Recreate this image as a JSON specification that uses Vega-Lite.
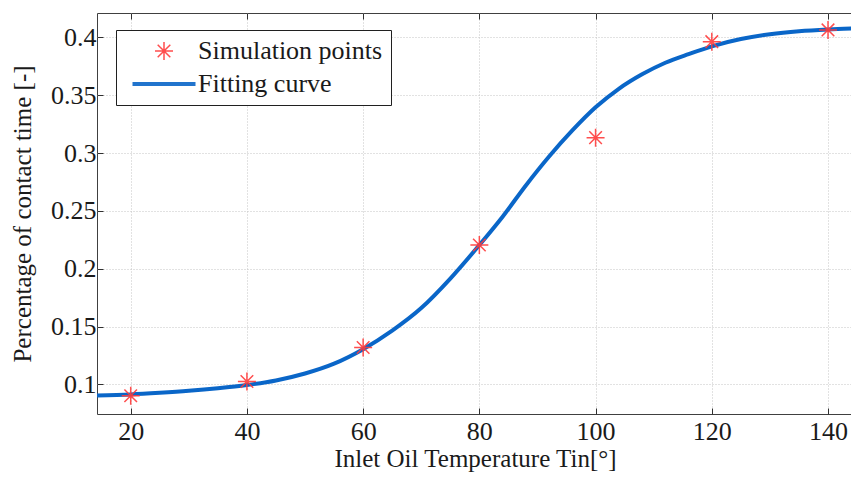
{
  "$schema": "https://vega.github.io/schema/vega-lite/v6.json",
  "width": 756,
  "height": 401,
  "autosize": "none",
  "padding": {"left": 97, "top": 13, "right": 0, "bottom": 63},
  "background": "white",
  "config": {
    "view": {"stroke": "#404040", "strokeWidth": 1},
    "font": "Liberation Serif",
    "axis": {
      "labelFont": "Liberation Serif",
      "titleFont": "Liberation Serif",
      "labelFontSize": 26,
      "titleFontSize": 25,
      "labelColor": "#1a1a1a",
      "titleColor": "#1a1a1a",
      "titleFontWeight": "normal",
      "domain": false,
      "tickColor": "#303030",
      "tickSize": -6,
      "grid": true,
      "gridColor": "#c4c4c4",
      "gridDash": [1, 2],
      "gridWidth": 1
    },
    "legend": {
      "labelFont": "Liberation Serif",
      "labelFontSize": 26,
      "labelColor": "#1a1a1a",
      "labelLimit": 400
    }
  },
  "datasets": {
    "curve": [
      {"T": 14.2, "P": 0.0905},
      {"T": 20, "P": 0.0914},
      {"T": 25, "P": 0.0928},
      {"T": 30, "P": 0.0945},
      {"T": 35, "P": 0.0967},
      {"T": 40, "P": 0.0995},
      {"T": 45, "P": 0.1035},
      {"T": 50, "P": 0.1095},
      {"T": 55, "P": 0.118},
      {"T": 60, "P": 0.1305},
      {"T": 65, "P": 0.1465},
      {"T": 70, "P": 0.166},
      {"T": 75, "P": 0.1915},
      {"T": 80, "P": 0.2205},
      {"T": 84, "P": 0.245},
      {"T": 88, "P": 0.272},
      {"T": 92, "P": 0.297},
      {"T": 96, "P": 0.3195},
      {"T": 100, "P": 0.3395},
      {"T": 104, "P": 0.3555},
      {"T": 108, "P": 0.368},
      {"T": 112, "P": 0.378},
      {"T": 116, "P": 0.3855},
      {"T": 120, "P": 0.3922},
      {"T": 125, "P": 0.3985},
      {"T": 130, "P": 0.4027},
      {"T": 135, "P": 0.4053},
      {"T": 140, "P": 0.4068},
      {"T": 144.3, "P": 0.4076}
    ],
    "points": [
      {"T": 20, "P": 0.0903},
      {"T": 40, "P": 0.1026},
      {"T": 60, "P": 0.132},
      {"T": 80, "P": 0.2205},
      {"T": 100, "P": 0.3133},
      {"T": 120, "P": 0.3962},
      {"T": 140, "P": 0.4064}
    ]
  },
  "resolve": {"axis": {"x": "independent", "y": "independent"}},
  "layer": [
    {
      "data": {"name": "curve"},
      "transform": [{"calculate": "'Fitting curve'", "as": "series"}],
      "mark": {"type": "line", "clip": true, "strokeCap": "butt", "interpolate": "monotone"},
      "encoding": {
        "x": {
          "field": "T", "type": "quantitative",
          "scale": {"domain": [14.2, 144.3], "nice": false, "zero": false},
          "axis": {"values": [20, 40, 60, 80, 100, 120, 140], "title": "Inlet Oil Temperature Tin[°]", "labelPadding": 10, "titlePadding": 2}
        },
        "y": {
          "field": "P", "type": "quantitative",
          "scale": {"domain": [0.0745, 0.421], "nice": false, "zero": false},
          "axis": {"values": [0.1, 0.15, 0.2, 0.25, 0.3, 0.35, 0.4], "format": ".2~f", "title": "Percentage of contact time [-]", "labelPadding": 7, "titlePadding": 15}
        },
        "color": {
          "field": "series", "type": "nominal",
          "scale": {"domain": ["Simulation points", "Fitting curve"], "range": ["#ff3b3b", "#0a66c8"]},
          "legend": {
            "title": null,
            "orient": "none",
            "legendX": 19,
            "legendY": 17,
            "strokeColor": "#202020",
            "fillColor": "white",
            "padding": 8,
            "symbolOffset": 27,
            "symbolSize": 324,
            "labelOffset": 21,
            "rowPadding": 7
          }
        },
        "strokeWidth": {
          "field": "series", "type": "nominal",
          "scale": {"domain": ["Simulation points", "Fitting curve"], "range": [1.5, 4]},
          "legend": {"title": null}
        }
      }
    },
    {
      "data": {"name": "points"},
      "transform": [{"calculate": "'Simulation points'", "as": "series"}],
      "mark": {"type": "point", "filled": false, "size": 324, "opacity": 0.9},
      "encoding": {
        "x": {
          "field": "T", "type": "quantitative",
          "axis": {"orient": "top", "values": [20, 40, 60, 80, 100, 120, 140], "labels": false, "title": null, "grid": false}
        },
        "y": {"field": "P", "type": "quantitative", "axis": null},
        "color": {"field": "series", "type": "nominal"},
        "strokeWidth": {"field": "series", "type": "nominal"},
        "shape": {
          "field": "series", "type": "nominal",
          "scale": {"domain": ["Simulation points", "Fitting curve"], "range": ["M-1,0L1,0M0,-1L0,1M-0.7,-0.7L0.7,0.7M-0.7,0.7L0.7,-0.7", "M-3.5,0L3.5,0"]},
          "legend": {"title": null}
        }
      }
    }
  ]
}
